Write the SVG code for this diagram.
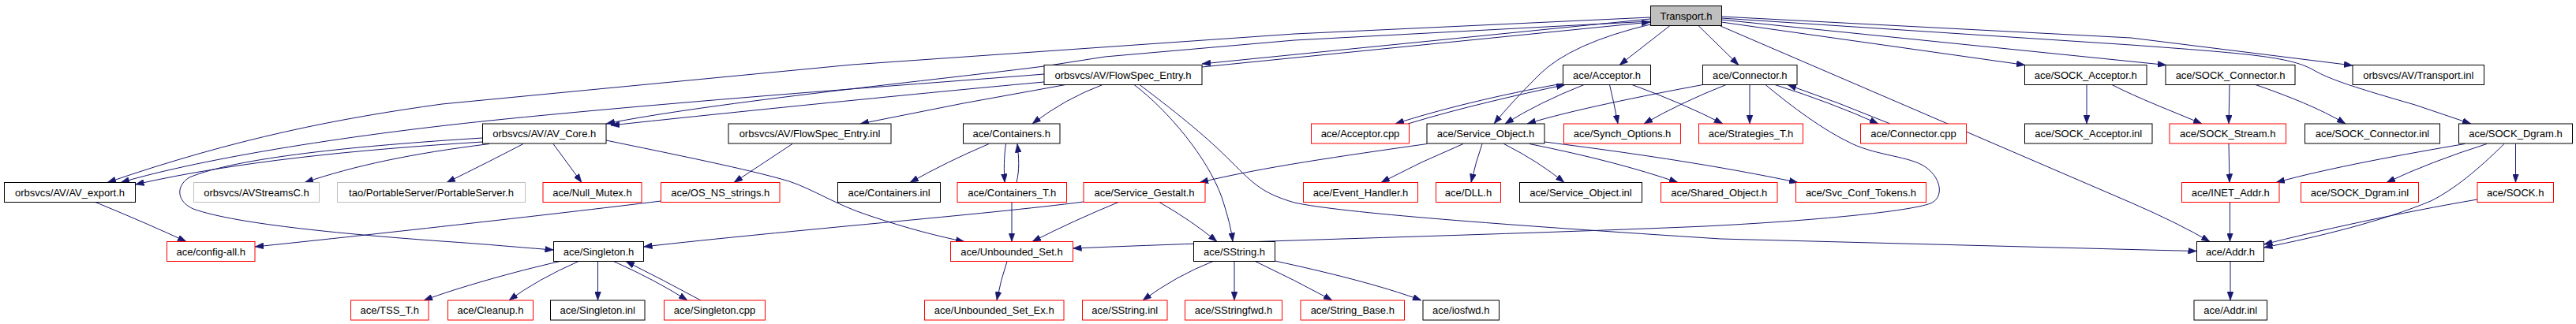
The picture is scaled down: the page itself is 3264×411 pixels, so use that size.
<svg xmlns="http://www.w3.org/2000/svg" width="3264" height="411" viewBox="0 0 3264 411">
<style>
.node rect{fill:#ffffff;stroke:#000000;stroke-width:1}
.node.red rect{stroke:#ff0000}
.node.gray rect{stroke:#bfbfbf}
.node.root rect{fill:#bfbfbf}
.node text{font-family:"Liberation Sans",Arial,Helvetica,sans-serif;font-size:13px;fill:#000000;text-anchor:middle}
.edges path{fill:none;stroke:#191970;stroke-width:1;marker-end:url(#ah)}
</style>
<defs>
<marker id="ah" markerUnits="userSpaceOnUse" markerWidth="11" markerHeight="8" refX="11" refY="4" orient="auto">
<path d="M0,0 L11,4 L0,8 z" fill="#191970" stroke="#191970" stroke-width="0.5"/>
</marker>
</defs>
<rect width="3264" height="411" fill="#ffffff"/>
<g class="edges" id="edges">
<path d="M2091,22 L1640,43 L1080,82 L560,132 C430,150 300,175 136,231.5"/>
<path d="M2091,27 L1640,51 L1400,72 L1323,84 C1200,100 900,130 768,157"/>
<path d="M1323,94 C1200,104 900,125 640,151 C450,170 260,200 153,231.5"/>
<path d="M1323,104 C1200,115 950,140 774,159"/>
<path d="M2091,24 L1523,81"/>
<path d="M1523,85 L2091,28"/>
<path d="M2116,32.5 L2052,82.5"/>
<path d="M2152,32.5 L2203,82.5"/>
<path d="M2091,31 Q1990,55 1950,95 Q1915,130 1893,157"/>
<path d="M2180,33 L2700,257 Q2760,283 2800,306.5"/>
<path d="M2181,28 L2566,82.5"/>
<path d="M2181,25 L2745,82.5"/>
<path d="M2181,21 L2700,48 L2981,83"/>
<path d="M2181,23 L2700,57 C2850,68 2900,72 2930,88 C2950,100 2980,110 3060,133 L3131,157"/>
<path d="M1350,107.5 Q1220,130 1090,157"/>
<path d="M1397,107.5 Q1350,125 1308,157"/>
<path d="M1437,107.5 C1480,140 1530,200 1548,250 C1556,275 1560,290 1562,306.5"/>
<path d="M1444,107.5 C1500,150 1530,175 1560,205 C1590,235 1600,245 1640,257 C1700,270 1900,285 2180,303 L2720,317 L2783.5,318.5"/>
<path d="M611.5,180 C450,190 300,205 171.5,234"/>
<path d="M611.5,175 C450,185 300,200 240,225 C222,236 224,256 245,265 C300,285 450,298 560,306 C620,310 660,314 701.5,317"/>
<path d="M620,182.5 C520,195 450,210 386,231.5"/>
<path d="M663,182.5 Q620,205 566,231.5"/>
<path d="M701,182.5 L737,231.5"/>
<path d="M768,178 C850,195 950,215 1000,230 C1030,240 1060,260 1100,273 C1150,290 1190,300 1222,306.5"/>
<path d="M1004,182.5 Q970,205 930,231.5"/>
<path d="M837.5,255 C700,272 450,300 323,313"/>
<path d="M121,256.5 Q190,285 236,306.5"/>
<path d="M1253,182.5 Q1200,205 1153,231.5"/>
<path d="M1274.5,182.5 C1272,200 1272,215 1273,231.5"/>
<path d="M1288,231.5 C1292,215 1291,200 1289,182.5"/>
<path d="M1282,256.5 L1282,306.5"/>
<path d="M1276,331.5 Q1268,355 1263,381"/>
<path d="M1417,256.5 Q1360,280 1308,306.5"/>
<path d="M1469,256.5 Q1510,280 1542,306.5"/>
<path d="M1373,256 C1250,272 1000,292 815.5,313"/>
<path d="M1808,182.5 C1700,198 1600,212 1520,231.5"/>
<path d="M1854,182.5 Q1800,205 1750,231.5"/>
<path d="M1878,182.5 Q1870,205 1864,231.5"/>
<path d="M1905.5,182.5 Q1950,205 1982,231.5"/>
<path d="M1938,182.5 Q2050,205 2126,231.5"/>
<path d="M1957,180 C2100,198 2200,215 2278,231.5"/>
<path d="M1980,106 C1900,120 1820,140 1768,157"/>
<path d="M1784,157 C1850,137 1920,121 1983,107.5"/>
<path d="M2007,107.5 Q1950,130 1907,157"/>
<path d="M2039.5,107.5 Q2045,130 2050,157"/>
<path d="M2068,107.5 Q2130,130 2183,157"/>
<path d="M2157.5,107.5 C2080,122 1990,140 1935,157"/>
<path d="M2187,107.5 Q2130,130 2083,157"/>
<path d="M2217,107.5 L2217,157"/>
<path d="M2249,107.5 Q2320,130 2380,157"/>
<path d="M2395,157 Q2330,130 2265,107.5"/>
<path d="M2237,107.5 C2270,135 2310,165 2346,182 C2380,198 2420,198 2440,212 C2462,228 2462,252 2446,258 C2420,268 2300,280 2160,287 C1900,298 1600,305 1359.5,315"/>
<path d="M2644,107.5 L2644,157"/>
<path d="M2676,107.5 C2710,125 2750,140 2790,157"/>
<path d="M2825,107.5 L2824,157"/>
<path d="M2858,107.5 C2900,122 2940,138 2972,157"/>
<path d="M2824,182 L2825,231.5"/>
<path d="M2825.5,256.5 L2825.5,306.5"/>
<path d="M3123,182.5 C3050,195 2950,213 2884,231.5"/>
<path d="M3151,182.5 Q3080,205 3024,231.5"/>
<path d="M3187.5,182.5 L3187.5,231.5"/>
<path d="M3173,182.5 C3140,215 3110,240 3080,255 C3020,280 2940,300 2868.5,314"/>
<path d="M3139,253 C3040,270 2940,292 2868.5,310"/>
<path d="M2826,331.5 L2826,381"/>
<path d="M709.5,331.5 C650,345 580,365 537,381"/>
<path d="M733,331.5 Q680,355 645,381"/>
<path d="M757.5,331.5 L757.5,381"/>
<path d="M777.5,331.5 Q830,355 871,381"/>
<path d="M888,381 Q840,355 793,331.5"/>
<path d="M1537,331.5 Q1490,350 1448,381"/>
<path d="M1564,331.5 L1564,381"/>
<path d="M1590.5,331.5 Q1640,355 1688,381"/>
<path d="M1615.5,331 C1680,345 1750,362 1801,381"/>
</g>
<g id="transport_h" class="node root"><rect x="2091.5" y="7.5" width="90" height="25"/><text x="2136.5" y="24.5">Transport.h</text></g>
<g id="flowspec_entry_h" class="node"><rect x="1323" y="82.5" width="200" height="25"/><text x="1423" y="99.5">orbsvcs/AV/FlowSpec_Entry.h</text></g>
<g id="acceptor_h" class="node"><rect x="1980.5" y="82.5" width="111" height="25"/><text x="2036" y="99.5">ace/Acceptor.h</text></g>
<g id="connector_h" class="node"><rect x="2157.5" y="82.5" width="119.5" height="25"/><text x="2217.25" y="99.5">ace/Connector.h</text></g>
<g id="sock_acceptor_h" class="node"><rect x="2565.5" y="82.5" width="154.5" height="25"/><text x="2642.75" y="99.5">ace/SOCK_Acceptor.h</text></g>
<g id="sock_connector_h" class="node"><rect x="2744" y="82.5" width="164" height="25"/><text x="2826" y="99.5">ace/SOCK_Connector.h</text></g>
<g id="transport_inl" class="node"><rect x="2981" y="82.5" width="166.5" height="25"/><text x="3064.25" y="99.5">orbsvcs/AV/Transport.inl</text></g>
<g id="av_core_h" class="node"><rect x="611.5" y="157" width="156.5" height="25"/><text x="689.75" y="174">orbsvcs/AV/AV_Core.h</text></g>
<g id="flowspec_entry_inl" class="node"><rect x="923" y="157" width="206" height="25"/><text x="1026" y="174">orbsvcs/AV/FlowSpec_Entry.inl</text></g>
<g id="containers_h" class="node"><rect x="1220.5" y="157" width="122.5" height="25"/><text x="1281.75" y="174">ace/Containers.h</text></g>
<g id="acceptor_cpp" class="node red"><rect x="1661.5" y="157" width="124" height="25"/><text x="1723.5" y="174">ace/Acceptor.cpp</text></g>
<g id="service_object_h" class="node"><rect x="1808" y="157" width="149" height="25"/><text x="1882.5" y="174">ace/Service_Object.h</text></g>
<g id="synch_options_h" class="node red"><rect x="1981.5" y="157" width="148" height="25"/><text x="2055.5" y="174">ace/Synch_Options.h</text></g>
<g id="strategies_t_h" class="node red"><rect x="2152.5" y="157" width="132" height="25"/><text x="2218.5" y="174">ace/Strategies_T.h</text></g>
<g id="connector_cpp" class="node red"><rect x="2357.5" y="157" width="134" height="25"/><text x="2424.5" y="174">ace/Connector.cpp</text></g>
<g id="sock_acceptor_inl" class="node"><rect x="2565.5" y="157" width="161.5" height="25"/><text x="2646.25" y="174">ace/SOCK_Acceptor.inl</text></g>
<g id="sock_stream_h" class="node red"><rect x="2749" y="157" width="147.5" height="25"/><text x="2822.75" y="174">ace/SOCK_Stream.h</text></g>
<g id="sock_connector_inl" class="node"><rect x="2920.5" y="157" width="171" height="25"/><text x="3006" y="174">ace/SOCK_Connector.inl</text></g>
<g id="sock_dgram_h" class="node"><rect x="3115.5" y="157" width="144" height="25"/><text x="3187.5" y="174">ace/SOCK_Dgram.h</text></g>
<g id="av_export_h" class="node"><rect x="5.5" y="231.5" width="166" height="25"/><text x="88.5" y="248.5">orbsvcs/AV/AV_export.h</text></g>
<g id="avstreamsc_h" class="node gray"><rect x="245.5" y="231.5" width="159" height="25"/><text x="325" y="248.5">orbsvcs/AVStreamsC.h</text></g>
<g id="portableserver_h" class="node gray"><rect x="427.5" y="231.5" width="238" height="25"/><text x="546.5" y="248.5">tao/PortableServer/PortableServer.h</text></g>
<g id="null_mutex_h" class="node red"><rect x="688" y="231.5" width="125" height="25"/><text x="750.5" y="248.5">ace/Null_Mutex.h</text></g>
<g id="os_ns_strings_h" class="node red"><rect x="837.5" y="231.5" width="150.5" height="25"/><text x="912.75" y="248.5">ace/OS_NS_strings.h</text></g>
<g id="containers_inl" class="node"><rect x="1061.5" y="231.5" width="130" height="25"/><text x="1126.5" y="248.5">ace/Containers.inl</text></g>
<g id="containers_t_h" class="node red"><rect x="1213" y="231.5" width="138.5" height="25"/><text x="1282.25" y="248.5">ace/Containers_T.h</text></g>
<g id="service_gestalt_h" class="node red"><rect x="1373" y="231.5" width="154" height="25"/><text x="1450" y="248.5">ace/Service_Gestalt.h</text></g>
<g id="event_handler_h" class="node red"><rect x="1651.5" y="231.5" width="145" height="25"/><text x="1724" y="248.5">ace/Event_Handler.h</text></g>
<g id="dll_h" class="node red"><rect x="1819.5" y="231.5" width="82" height="25"/><text x="1860.5" y="248.5">ace/DLL.h</text></g>
<g id="service_object_inl" class="node"><rect x="1925.5" y="231.5" width="155" height="25"/><text x="2003" y="248.5">ace/Service_Object.inl</text></g>
<g id="shared_object_h" class="node red"><rect x="2104.5" y="231.5" width="147.5" height="25"/><text x="2178.25" y="248.5">ace/Shared_Object.h</text></g>
<g id="svc_conf_tokens_h" class="node red"><rect x="2275.5" y="231.5" width="165" height="25"/><text x="2358" y="248.5">ace/Svc_Conf_Tokens.h</text></g>
<g id="inet_addr_h" class="node red"><rect x="2764.5" y="231.5" width="123.5" height="25"/><text x="2826.25" y="248.5">ace/INET_Addr.h</text></g>
<g id="sock_dgram_inl" class="node red"><rect x="2915.5" y="231.5" width="149" height="25"/><text x="2990" y="248.5">ace/SOCK_Dgram.inl</text></g>
<g id="sock_h" class="node red"><rect x="3139" y="231.5" width="96.5" height="25"/><text x="3187.25" y="248.5">ace/SOCK.h</text></g>
<g id="config_all_h" class="node red"><rect x="211.5" y="306.5" width="111.5" height="25"/><text x="267.25" y="323.5">ace/config-all.h</text></g>
<g id="singleton_h" class="node"><rect x="701.5" y="306.5" width="114" height="25"/><text x="758.5" y="323.5">ace/Singleton.h</text></g>
<g id="unbounded_set_h" class="node red"><rect x="1204.5" y="306.5" width="155" height="25"/><text x="1282" y="323.5">ace/Unbounded_Set.h</text></g>
<g id="sstring_h" class="node"><rect x="1512.5" y="306.5" width="103" height="25"/><text x="1564" y="323.5">ace/SString.h</text></g>
<g id="addr_h" class="node"><rect x="2783.5" y="306.5" width="85" height="25"/><text x="2826" y="323.5">ace/Addr.h</text></g>
<g id="tss_t_h" class="node red"><rect x="444.5" y="381" width="98.5" height="25"/><text x="493.75" y="398">ace/TSS_T.h</text></g>
<g id="cleanup_h" class="node red"><rect x="567.5" y="381" width="108" height="25"/><text x="621.5" y="398">ace/Cleanup.h</text></g>
<g id="singleton_inl" class="node"><rect x="697.5" y="381" width="119.5" height="25"/><text x="757.25" y="398">ace/Singleton.inl</text></g>
<g id="singleton_cpp" class="node red"><rect x="841.5" y="381" width="128" height="25"/><text x="905.5" y="398">ace/Singleton.cpp</text></g>
<g id="unbounded_set_ex_h" class="node red"><rect x="1171.5" y="381" width="176.5" height="25"/><text x="1259.75" y="398">ace/Unbounded_Set_Ex.h</text></g>
<g id="sstring_inl" class="node red"><rect x="1371.5" y="381" width="107.5" height="25"/><text x="1425.25" y="398">ace/SString.inl</text></g>
<g id="sstringfwd_h" class="node red"><rect x="1501.5" y="381" width="123" height="25"/><text x="1563" y="398">ace/SStringfwd.h</text></g>
<g id="string_base_h" class="node red"><rect x="1648" y="381" width="131.5" height="25"/><text x="1713.75" y="398">ace/String_Base.h</text></g>
<g id="iosfwd_h" class="node"><rect x="1803" y="381" width="96.5" height="25"/><text x="1851.25" y="398">ace/iosfwd.h</text></g>
<g id="addr_inl" class="node"><rect x="2780" y="381" width="92.5" height="25"/><text x="2826.25" y="398">ace/Addr.inl</text></g>
</svg>
